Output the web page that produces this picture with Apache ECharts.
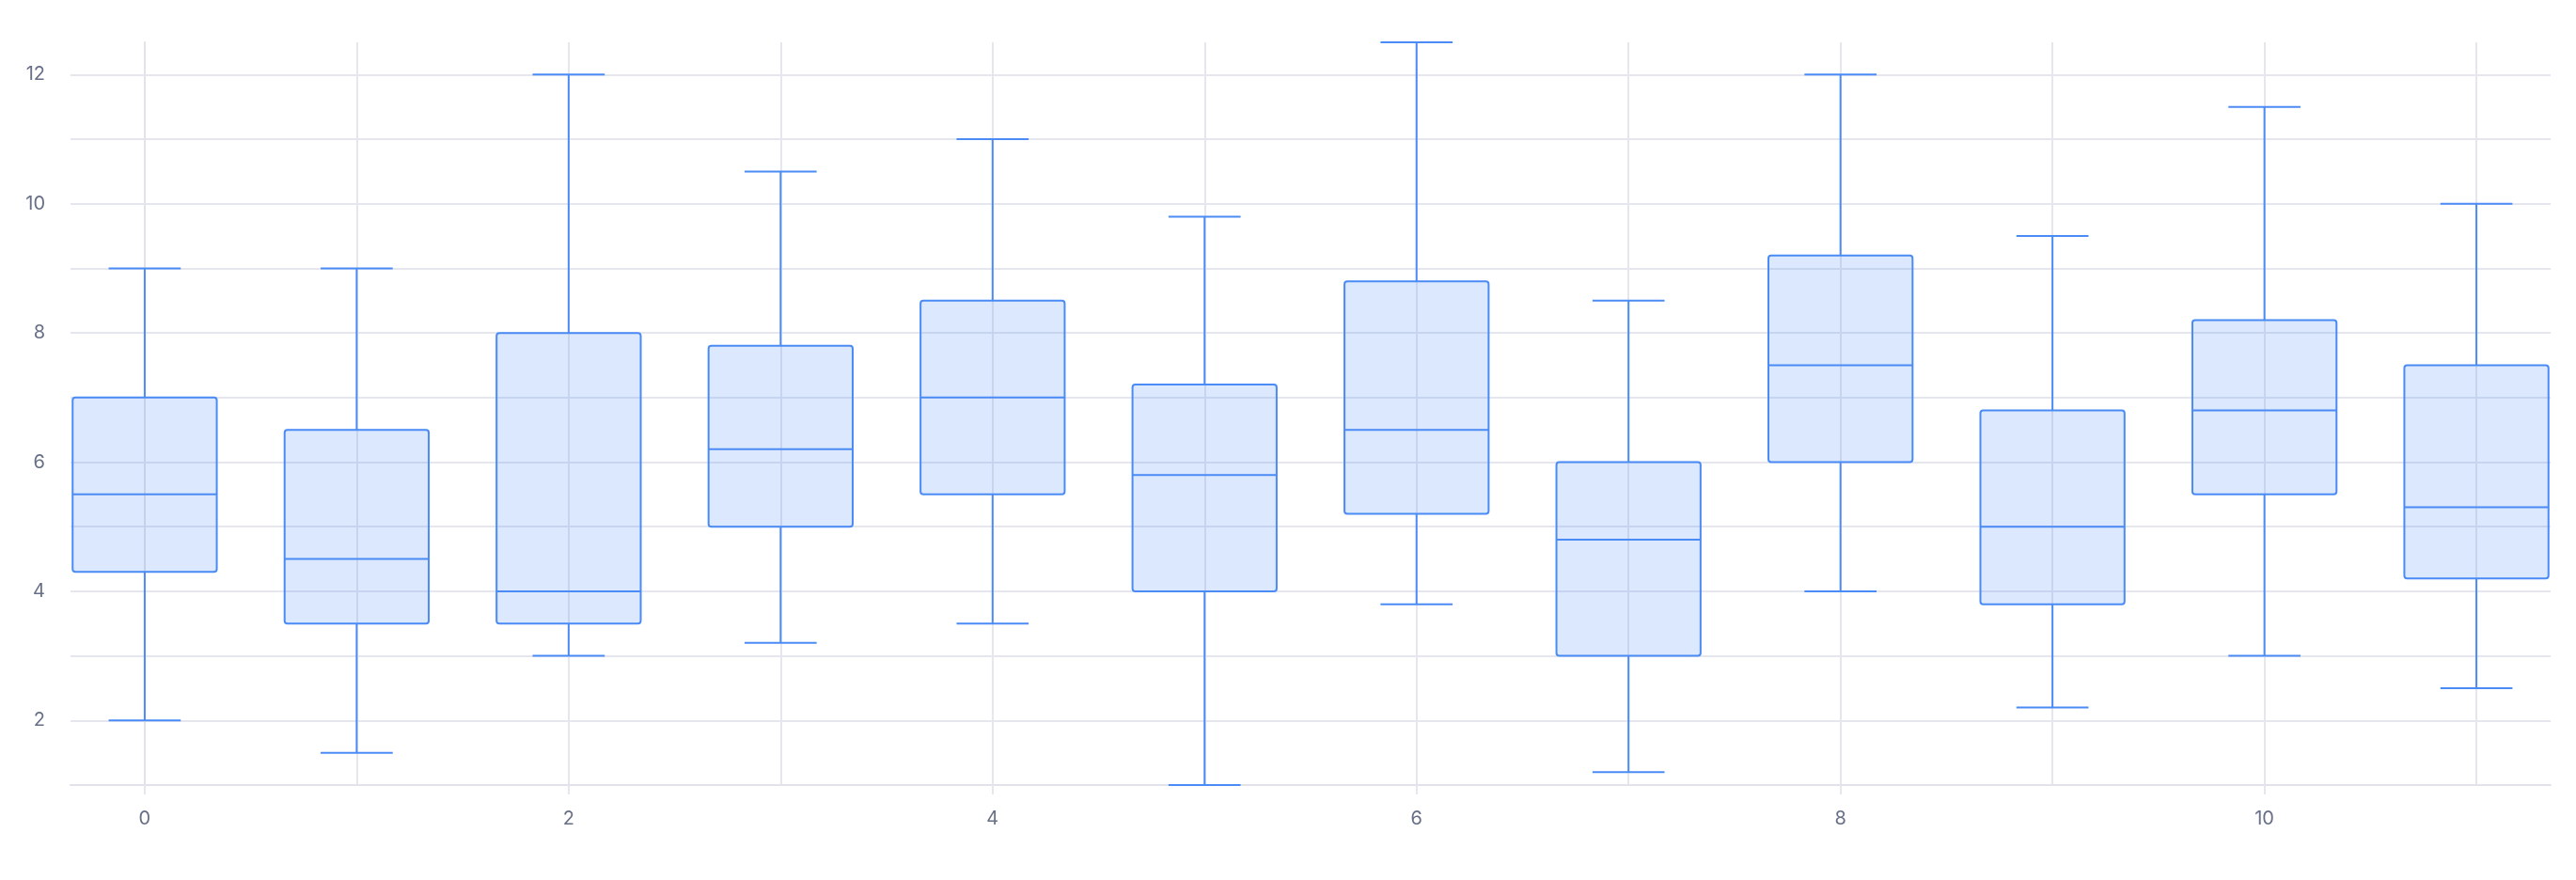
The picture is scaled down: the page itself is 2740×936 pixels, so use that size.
<!DOCTYPE html>
<html>
<head>
<meta charset="utf-8">
<script src="https://cdn.jsdelivr.net/npm/echarts@6/dist/echarts.min.js"></script>
<style>
  html, body { margin: 0; padding: 0; background: #fff; }
  #chart { width: 2740px; height: 936px; }
</style>
</head>
<body>
<div id="chart"></div>
<script>
// box plot data, one entry per group
var groups  = [0, 1, 2, 3, 4, 5, 6, 7, 8, 9, 10, 11];
var lows    = [2, 1.5, 3, 3.2, 3.5, 1, 3.8, 1.2, 4, 2.2, 3, 2.5];
var q1s     = [4.3, 3.5, 3.5, 5, 5.5, 4, 5.2, 3, 6, 3.8, 5.5, 4.2];
var medians = [5.5, 4.5, 4, 6.2, 7, 5.8, 6.5, 4.8, 7.5, 5, 6.8, 5.3];
var q3s     = [7, 6.5, 8, 7.8, 8.5, 7.2, 8.8, 6, 9.2, 6.8, 8.2, 7.5];
var highs   = [9, 9, 12, 10.5, 11, 9.8, 12.5, 8.5, 12, 9.5, 11.5, 10];

var xLabelTicks = [0, 2, 4, 6, 8, 10];
var xGridTicks  = [0, 1, 2, 3, 4, 5, 6, 7, 8, 9, 10, 11];
var yLabelTicks = [2, 4, 6, 8, 10, 12];
var yGridTicks  = [2, 3, 4, 5, 6, 7, 8, 9, 10, 11, 12];

var stroke = '#4b8bf5';
var fill = 'rgba(75,139,245,0.2)';
var gridColor = '#e6e7ee';
var labelColor = '#687087';

var data = [];
for (var i = 0; i < groups.length; i++) {
    data.push([groups[i], lows[i], q1s[i], medians[i], q3s[i], highs[i]]);
}

var myChart = echarts.init(document.getElementById('chart'));

function renderBox(params, api) {
    var x = api.value(0);
    var pLow = api.coord([x, api.value(1)]);
    var pQ1 = api.coord([x, api.value(2)]);
    var pMed = api.coord([x, api.value(3)]);
    var pQ3 = api.coord([x, api.value(4)]);
    var pHigh = api.coord([x, api.value(5)]);
    var boxW = api.size([0.68, 0])[0];
    var capW = api.size([0.34, 0])[0];
    var cx = pMed[0];
    var lineStyle = { stroke: stroke, lineWidth: 2, fill: null };
    return {
        type: 'group',
        children: [
            { type: 'line', shape: { x1: cx, y1: pLow[1], x2: cx, y2: pQ1[1] }, style: lineStyle },
            { type: 'line', shape: { x1: cx, y1: pQ3[1], x2: cx, y2: pHigh[1] }, style: lineStyle },
            { type: 'line', shape: { x1: cx - capW / 2, y1: pLow[1], x2: cx + capW / 2, y2: pLow[1] }, style: lineStyle },
            { type: 'line', shape: { x1: cx - capW / 2, y1: pHigh[1], x2: cx + capW / 2, y2: pHigh[1] }, style: lineStyle },
            {
                type: 'rect',
                shape: { x: cx - boxW / 2, y: pQ3[1], width: boxW, height: pQ1[1] - pQ3[1], r: 3 },
                style: { fill: fill, stroke: stroke, lineWidth: 2 }
            },
            { type: 'line', shape: { x1: cx - boxW / 2, y1: pMed[1], x2: cx + boxW / 2, y2: pMed[1] }, style: lineStyle }
        ]
    };
}

var option = {
    backgroundColor: '#ffffff',
    animation: false,
    textStyle: { fontFamily: 'Inter' },
    grid: { left: 75, right: 27, top: 45, bottom: 101, containLabel: false },
    xAxis: [
        {
            type: 'value', min: -0.35, max: 11.35,
            axisLine: { show: true, lineStyle: { color: '#e2e3ea', width: 2 } },
            axisTick: { show: true, length: 10, customValues: xLabelTicks, lineStyle: { color: gridColor, width: 2 } },
            axisLabel: { customValues: xLabelTicks, color: labelColor, fontSize: 20, margin: 26, fontFamily: 'Inter' },
            splitLine: { show: false }
        },
        {
            type: 'value', min: -0.35, max: 11.35, position: 'bottom',
            axisLine: { show: false },
            axisTick: { show: false, customValues: xGridTicks },
            axisLabel: { show: false },
            splitLine: { show: true, lineStyle: { color: gridColor, width: 2 } }
        }
    ],
    yAxis: [
        {
            type: 'value', min: 1, max: 12.5,
            axisLine: { show: true, lineStyle: { color: '#e2e3ea', width: 2 } },
            axisTick: { show: true, length: 12, customValues: yLabelTicks, lineStyle: { color: gridColor, width: 2 } },
            axisLabel: { customValues: yLabelTicks, color: labelColor, fontSize: 20, margin: 27, fontFamily: 'Inter' },
            splitLine: { show: false }
        },
        {
            type: 'value', min: 1, max: 12.5, position: 'left',
            axisLine: { show: false },
            axisTick: { show: false, customValues: yGridTicks },
            axisLabel: { show: false },
            splitLine: { show: true, lineStyle: { color: gridColor, width: 2 } }
        }
    ],
    series: [
        {
            type: 'custom',
            xAxisIndex: 0,
            yAxisIndex: 0,
            renderItem: renderBox,
            encode: { x: 0, y: [1, 2, 3, 4, 5] },
            data: data,
            z: 10
        }
    ]
};
myChart.setOption(option);
</script>
</body>
</html>
